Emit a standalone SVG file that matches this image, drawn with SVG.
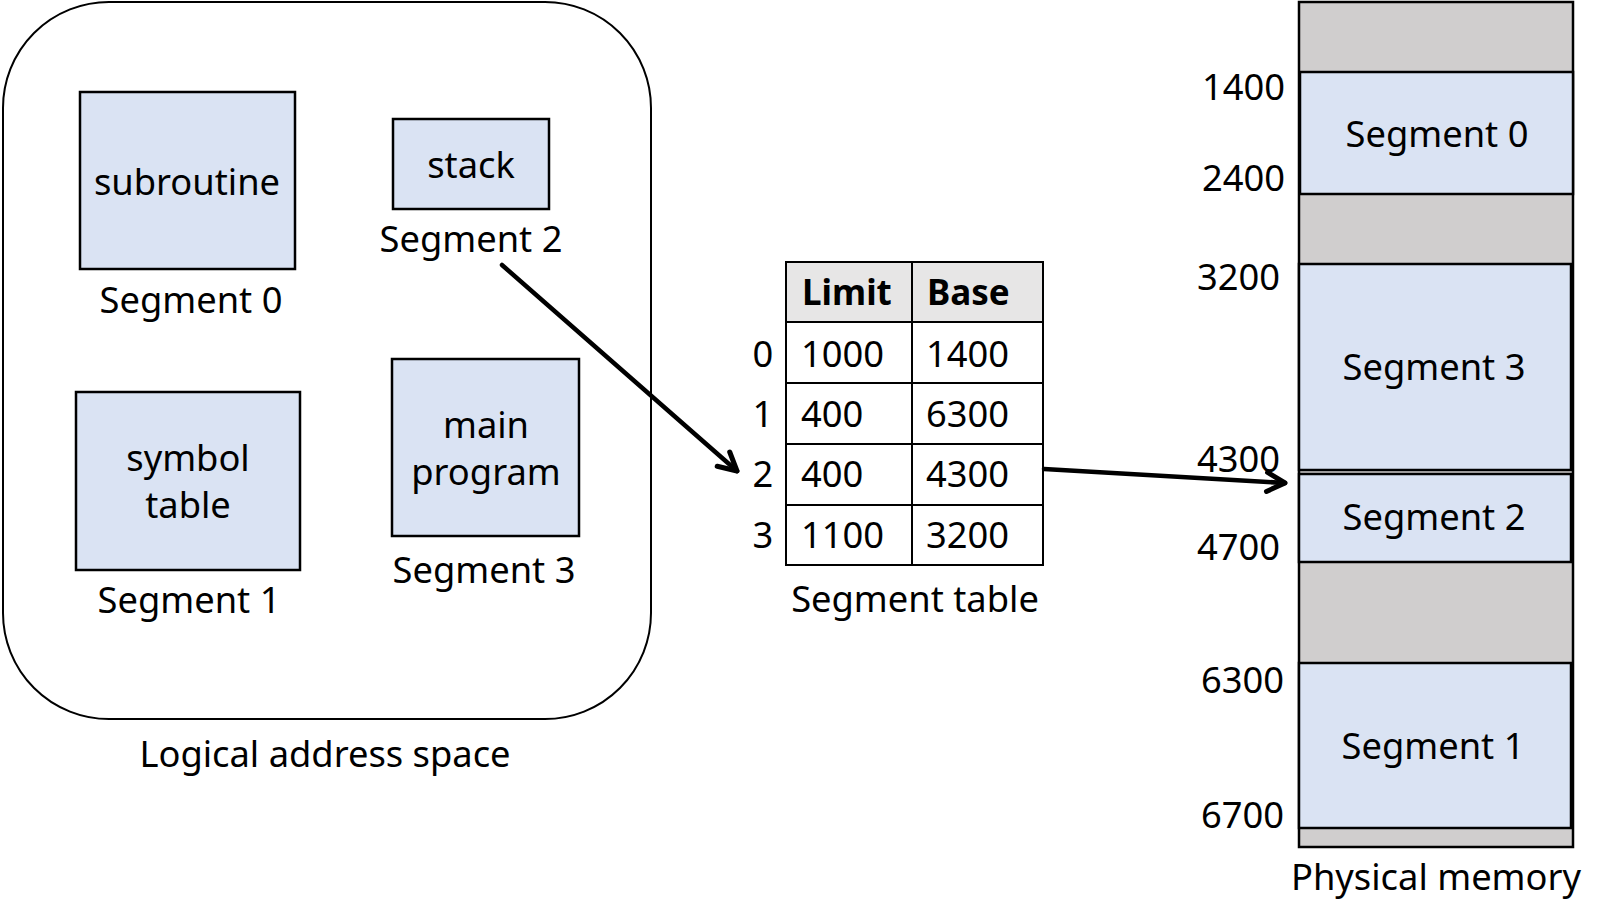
<svg xmlns="http://www.w3.org/2000/svg" width="1604" height="923" viewBox="0 0 1604 923">
<style>
text{font-family:"Noto Sans","Open Sans","Liberation Sans",sans-serif;font-size:36.3px;fill:#000}
.c{text-anchor:middle}
.e{text-anchor:end}
.b{font-weight:bold;font-size:35px}
.box{fill:#dae3f3;stroke:#000;stroke-width:2.5}
.gry{fill:#d0cece;stroke:#000;stroke-width:2.5}
.cell{fill:#fff;stroke:#000;stroke-width:2}
.hdr{fill:#e7e6e6;stroke:#000;stroke-width:2}
.conn{fill:none;stroke:#000;stroke-width:4.5;stroke-linecap:round}
</style>
<defs>
<marker id="arr" viewBox="0 0 26 26" refX="22" refY="13" markerWidth="26" markerHeight="26" markerUnits="userSpaceOnUse" orient="auto">
<path d="M4,3.5 L22,13 L4,22.5" fill="none" stroke="#000" stroke-width="5" stroke-linecap="round" stroke-linejoin="round"/>
</marker>
</defs>

<g id="logical-space">
<rect x="3" y="2" width="648" height="717" rx="106" ry="106" fill="#fff" stroke="#000" stroke-width="2"/>
<text class="c" x="325" y="767">Logical address space</text>
</g>

<g id="seg0-logical">
<rect class="box" x="80" y="92" width="215" height="177"/>
<text class="c" x="187" y="195">subroutine</text>
<text class="c" x="191" y="313">Segment 0</text>
</g>

<g id="seg2-logical">
<rect class="box" x="393" y="119" width="156" height="90"/>
<text class="c" x="471" y="178">stack</text>
<text class="c" x="471" y="252">Segment 2</text>
</g>

<g id="seg1-logical">
<rect class="box" x="76" y="392" width="224" height="178"/>
<text class="c" x="188" y="471">symbol</text>
<text class="c" x="188" y="518">table</text>
<text class="c" x="189" y="613">Segment 1</text>
</g>

<g id="seg3-logical">
<rect class="box" x="392" y="359" width="187" height="177"/>
<text class="c" x="486" y="438">main</text>
<text class="c" x="486" y="485">program</text>
<text class="c" x="484" y="583">Segment 3</text>
</g>

<g id="segment-table">
<rect class="hdr" x="786" y="262" width="126" height="60"/>
<rect class="hdr" x="912" y="262" width="131" height="60"/>
<rect class="cell" x="786" y="322" width="126" height="61"/>
<rect class="cell" x="912" y="322" width="131" height="61"/>
<rect class="cell" x="786" y="383" width="126" height="61"/>
<rect class="cell" x="912" y="383" width="131" height="61"/>
<rect class="cell" x="786" y="444" width="126" height="61"/>
<rect class="cell" x="912" y="444" width="131" height="61"/>
<rect class="cell" x="786" y="505" width="126" height="60"/>
<rect class="cell" x="912" y="505" width="131" height="60"/>
<text class="b" x="802" y="305">Limit</text>
<text class="b" x="927" y="305">Base</text>
<text class="c" x="763" y="367">0</text>
<text class="c" x="763" y="427">1</text>
<text class="c" x="763" y="487">2</text>
<text class="c" x="763" y="548">3</text>
<text x="801" y="367">1000</text>
<text x="926" y="367">1400</text>
<text x="801" y="427">400</text>
<text x="926" y="427">6300</text>
<text x="801" y="487">400</text>
<text x="926" y="487">4300</text>
<text x="801" y="548">1100</text>
<text x="926" y="548">3200</text>
<text class="c" x="915" y="612">Segment table</text>
</g>

<g id="physical-memory">
<rect class="gry" x="1299" y="2" width="274" height="845"/>
<rect class="box" x="1300" y="72" width="273" height="122"/>
<rect class="box" x="1299" y="264" width="272" height="206"/>
<rect class="box" x="1299" y="474" width="272" height="88"/>
<rect class="box" x="1299" y="663" width="272" height="165"/>
<text class="c" x="1437" y="147">Segment 0</text>
<text class="c" x="1434" y="380">Segment 3</text>
<text class="c" x="1434" y="530">Segment 2</text>
<text class="c" x="1433" y="759">Segment 1</text>
<text class="e" x="1285" y="100">1400</text>
<text class="e" x="1285" y="191">2400</text>
<text class="e" x="1280" y="290">3200</text>
<text class="e" x="1280" y="472">4300</text>
<text class="e" x="1280" y="560">4700</text>
<text class="e" x="1284" y="693">6300</text>
<text class="e" x="1284" y="828">6700</text>
<text class="c" x="1436" y="890">Physical memory</text>
</g>

<g id="connectors">
<line class="conn" x1="502" y1="265" x2="737" y2="471" marker-end="url(#arr)"/>
<line class="conn" x1="1044" y1="469" x2="1285" y2="483" marker-end="url(#arr)"/>
</g>
</svg>
